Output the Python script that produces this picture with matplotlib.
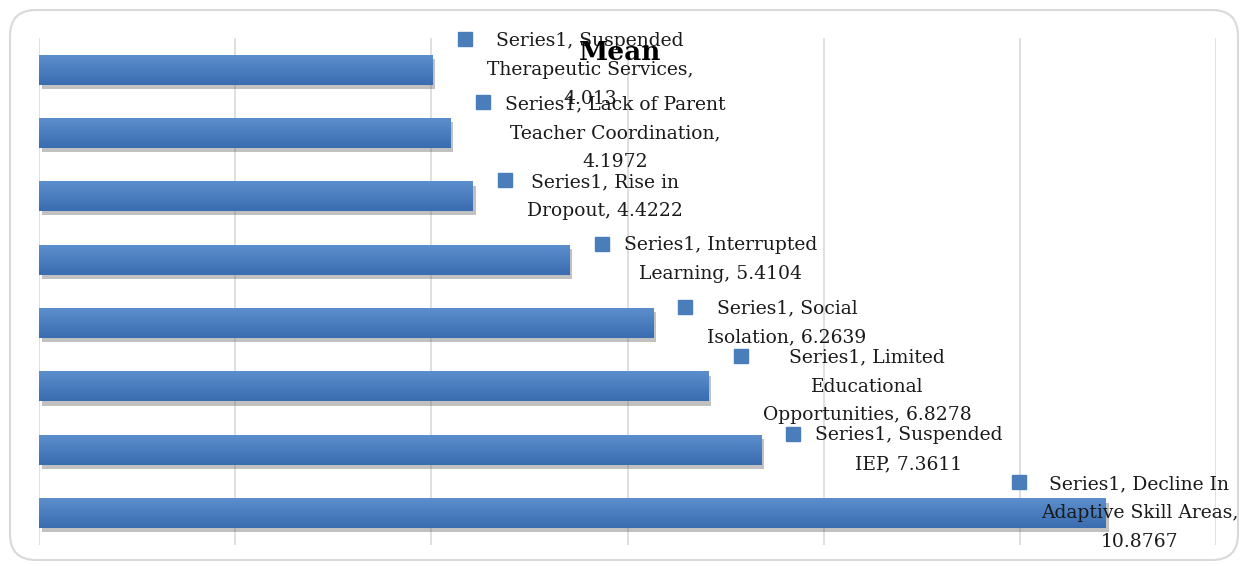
import numpy as np
import matplotlib
matplotlib.use("Agg")
import matplotlib.pyplot as plt
import matplotlib.patheffects as pe
from matplotlib.patches import FancyBboxPatch
from matplotlib.transforms import offset_copy, IdentityTransform

# data (top to bottom as drawn)
categories = [
    "Suspended\nTherapeutic Services,",
    "Lack of Parent\nTeacher Coordination,",
    "Rise in\nDropout,",
    "Interrupted\nLearning,",
    "Social\nIsolation,",
    "Limited\nEducational\nOpportunities,",
    "Suspended\nIEP,",
    "Decline In\nAdaptive Skill Areas,",
]
values = [4.013, 4.1972, 4.4222, 5.4104, 6.2639, 6.8278, 7.3611, 10.8767]
value_text = ["4.013", "4.1972", "4.4222", "5.4104", "6.2639", "6.8278", "7.3611", "10.8767"]
# whether the value goes on its own line
value_newline = [True, True, False, False, False, False, False, True]
series_name = "Series1"

W, H = 1240, 566
fig = plt.figure(figsize=(W / 100, H / 100), dpi=100)
ax = fig.add_axes([39 / W, 1 - 545 / H, (1216 - 39) / W, (545 - 38) / H])

# chart border
border = FancyBboxPatch((10, 6), 1228, 550, boxstyle="round,pad=0,rounding_size=26",
                        transform=IdentityTransform(), facecolor="white",
                        edgecolor="#d9d9d9", linewidth=1.5, zorder=-10)
fig.patches.append(border)

y = np.arange(len(values))
bars = ax.barh(y, values, height=0.47, color="#4a7ebb", zorder=3,
               path_effects=[pe.SimplePatchShadow(offset=(2, -3), shadow_rgbFace="#666666", alpha=0.4),
                             pe.Normal()])

# gradient on the bars
grad = np.linspace(0, 1, 64).reshape(-1, 1)
cmap = matplotlib.colors.LinearSegmentedColormap.from_list("g", ["#5d8ecc", "#4a7ebf", "#3a6cb0"])
for b in bars:
    x0, y0, w, h = b.get_x(), b.get_y(), b.get_width(), b.get_height()
    ax.imshow(grad, cmap=cmap, aspect="auto", extent=(x0, x0 + w, y0 + h, y0),
              zorder=4, interpolation="bicubic")

ax.set_xlim(0, 12)
ax.set_ylim(len(values) - 0.5, -0.5)
ax.set_xticks(np.arange(0, 13, 2))
ax.set_yticks([])
ax.grid(axis="x", color="#d9d9d9", linewidth=1.2, zorder=0)
ax.tick_params(axis="x", length=0, labelbottom=False)
for s in ax.spines.values():
    s.set_visible(False)
ax.set_facecolor("none")

fs = 13.5
line_px = 30
lsp = 1.78
fig.canvas.draw()
renderer = fig.canvas.get_renderer()

for i, (cat, v, vt, nl) in enumerate(zip(categories, values, value_text, value_newline)):
    label = f"{series_name}, {cat}" + ("\n" if nl else " ") + vt
    n = label.count("\n") + 1
    dy_marker = (n - 1) * line_px / 2 + 1
    t = ax.text(v, i, label, ha="left", va="center", multialignment="center",
                fontsize=fs, family="DejaVu Serif", linespacing=lsp, color="#1a1a1a",
                transform=offset_copy(ax.transData, fig, x=54, y=0, units="dots"), zorder=6)
    bb = t.get_window_extent(renderer)
    shift = max(0, bb.x1 - (W - 2))
    t.set_transform(offset_copy(ax.transData, fig, x=54 - shift, y=0, units="dots"))
    ax.plot([v], [i], marker="s", markersize=10, color="#4a7ebb", linestyle="none", zorder=6,
            transform=offset_copy(ax.transData, fig, x=32 - shift, y=dy_marker, units="dots"),
            clip_on=False)

fig.text(0.5, 1 - 52 / H, "Mean", ha="center", va="center", fontsize=19, fontweight="bold",
         family="DejaVu Serif")

fig.savefig("out.png", dpi=100)
